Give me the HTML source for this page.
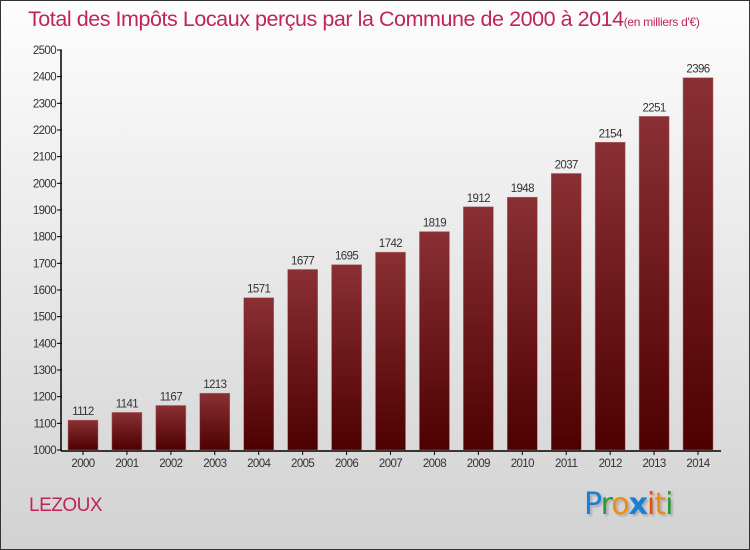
<!DOCTYPE html>
<html><head><meta charset="utf-8"><style>
body{margin:0;}
#wrap{position:relative;width:750px;height:550px;box-sizing:border-box;border:1px solid #333;background:linear-gradient(#fdfdfd,#f0f0f0 30%,#d2d2d2);font-family:"Liberation Sans",sans-serif;overflow:hidden}
#title{position:absolute;left:27px;top:6px;font-size:21.5px;color:#c0245a;white-space:nowrap;letter-spacing:-0.45px}
#title small{font-size:12px;letter-spacing:-0.3px}
#city{position:absolute;left:28px;top:494px;font-size:19px;color:#c0245a;letter-spacing:-0.5px}
#logo{position:absolute;left:583px;top:486px;font-size:30px;font-family:"DejaVu Sans",sans-serif;text-shadow:2px 2px 2px #aaa;letter-spacing:-1px}
</style></head><body>
<div id="wrap">
<div id="title">Total des Impôts Locaux perçus par la Commune de 2000 à 2014<small>(en milliers d'€)</small></div>
<svg id="chart" width="750" height="550" style="position:absolute;left:-1px;top:-1px">
<defs><linearGradient id="g" x1="0" y1="0" x2="0" y2="1"><stop offset="0" stop-color="#8a3034"/><stop offset="1" stop-color="#4e0000"/></linearGradient></defs>
</svg>
<div id="city">LEZOUX</div>
<div id="logo"><span style="color:#1a7fd6">P</span><span style="color:#2a9a3a">r</span><span style="color:#f08a10">o</span><span style="color:#1a7fd6;font-weight:bold">x</span><span style="color:#e84a10">i</span><span style="color:#f08a10">t</span><span style="color:#2a9a3a">i</span></div>
</div>
<script>
const years=["2000","2001","2002","2003","2004","2005","2006","2007","2008","2009","2010","2011","2012","2013","2014"];
const values=[1112,1141,1167,1213,1571,1677,1695,1742,1819,1912,1948,2037,2154,2251,2396];
const yTicks=[1000,1100,1200,1300,1400,1500,1600,1700,1800,1900,2000,2100,2200,2300,2400,2500];
const svg=document.getElementById('chart');const NS='http://www.w3.org/2000/svg';
const y=v=>450-(v-1000)*400/1500;
const x=i=>83+i*43.93;
function mk(t,a,txt){const e=document.createElementNS(NS,t);for(const k in a)e.setAttribute(k,a[k]);if(txt!==undefined)e.textContent=txt;svg.appendChild(e);return e;}
let ax=mk('line',{x1:61,y1:50,x2:61,y2:451,stroke:'#000','stroke-width':1.5});

let bx=mk('line',{x1:61,y1:451,x2:721,y2:451,stroke:'#000','stroke-width':1.5});

yTicks.forEach(v=>{
 let l=mk('line',{x1:57,y1:y(v),x2:62,y2:y(v),stroke:'#000'});
 
 let t=mk('text',{x:56,y:y(v)+4,'text-anchor':'end','font-size':11.5,fill:'#333','letter-spacing':'-0.6'},v);
 
});
values.forEach((v,i)=>{
 let r=mk('rect',{x:x(i)-15,y:y(v),width:30,height:450-y(v),fill:'url(#g)',stroke:'#b07070','stroke-width':0.5});
 
 let t=mk('text',{x:x(i),y:y(v)-5,'text-anchor':'middle','font-size':11.5,fill:'#333','letter-spacing':'-0.6'},v);
 
 let k=mk('line',{x1:x(i),y1:451,x2:x(i),y2:455,stroke:'#000'});
 
 let yl=mk('text',{x:x(i),y:467,'text-anchor':'middle','font-size':11.5,fill:'#333','letter-spacing':'-0.6'},years[i]);
 
});
</script>
</body></html>
